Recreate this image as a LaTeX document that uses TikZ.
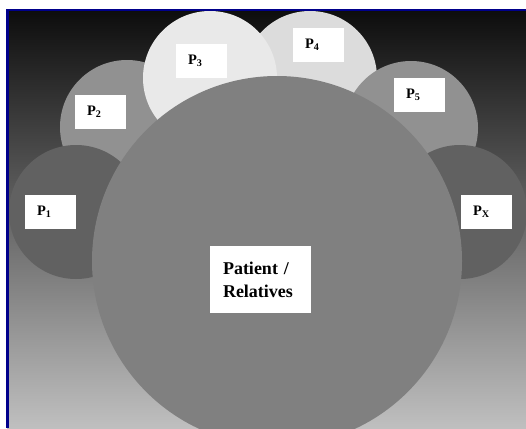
\documentclass[tikz,border=0pt]{standalone}
\usepackage{fontspec}
\setmainfont{Liberation Serif}
\definecolor{frameblue}{HTML}{00008B}
\definecolor{darkgrey}{HTML}{616161}
\definecolor{midgrey}{HTML}{919191}
\definecolor{lightgrey}{HTML}{E9E9E9}
\definecolor{palegrey}{HTML}{DCDCDC}
\definecolor{centregrey}{HTML}{808080}
\newcommand{\pname}[1]{P\textsubscript{#1}}
\begin{document}
\begin{tikzpicture}[
        x=1pt, y=-1pt,
        member/.style={circle, draw=none, minimum size=134pt, inner sep=0pt},
        namebox/.style={rectangle, fill=white, minimum width=51pt, minimum height=34pt, text width=27pt, inner xsep=12pt, align=left, font=\fontsize{14.5}{16}\selectfont\bfseries},
        centrebox/.style={rectangle, fill=white, minimum width=101pt, minimum height=67pt, text width=75pt, inner xsep=13pt, align=left, font=\fontsize{18}{23}\selectfont\bfseries}
    ]
        \useasboundingbox (0,0) rectangle (526,428);
        % background
        \shade[top color=black!95, middle color=black!45, bottom color=black!25] (7,10) rectangle (526,428);

        \begin{scope}
        \clip (7,10) rectangle (526,428);
        % surrounding circles
        \node[member, fill=palegrey] (c4) at (310,78) {};
        \node[member, fill=midgrey] (c2) at (127,127) {};
        \node[member, fill=midgrey] (c5) at (411,128) {};
        \node[member, fill=lightgrey] (c3) at (210,78) {};
        \node[member, fill=darkgrey] (c1) at (76,212) {};
        \node[member, fill=darkgrey] (cx) at (460,212) {};
        % patient circle
        \node[circle, fill=centregrey, minimum size=370pt, inner sep=0pt] (patient) at (277,261) {};
        \end{scope}

        % labels
        \node[namebox] (p1) at (50.5,212) {\pname{1}};
        \node[namebox] (p2) at (100.5,111.5) {\pname{2}};
        \node[namebox] (p3) at (201.5,61) {\pname{3}};
        \node[namebox] (p4) at (318.5,45) {\pname{4}};
        \node[namebox] (p5) at (419.5,95) {\pname{5}};
        \node[namebox] (px) at (486.5,212) {\pname{X}};
        \node[centrebox] (rel) at (260.5,279.5) {Patient /\\Relatives};

        \draw[frameblue, line width=2.5pt] (7.5,428) -- (7.5,10) -- (526,10);
    \end{tikzpicture}
\end{document}
